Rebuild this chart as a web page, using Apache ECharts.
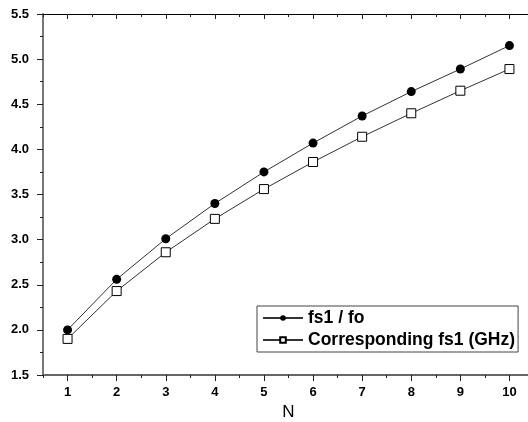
<!DOCTYPE html>
<html>
<head>
<meta charset="utf-8">
<script src="https://cdn.jsdelivr.net/npm/echarts@6/dist/echarts.min.js"></script>
<style>html,body{margin:0;padding:0;background:#fff;}#c{width:528px;height:422px;}</style>
</head>
<body>
<div id="c"></div>
<script>
const nValues = [1, 2, 3, 4, 5, 6, 7, 8, 9, 10];
const ratioName = 'fs1 / fo';
const ratioValues = [2.00, 2.56, 3.01, 3.40, 3.75, 4.07, 4.37, 4.64, 4.89, 5.15];
const freqName = 'Corresponding fs1 (GHz)';
const freqValues = [1.90, 2.43, 2.86, 3.23, 3.56, 3.86, 4.14, 4.40, 4.65, 4.89];
const yTicks = [1.5, 2.0, 2.5, 3.0, 3.5, 4.0, 4.5, 5.0, 5.5];

const FONT = 'Liberation Sans';
const pairs = (ys) => nValues.map((n, i) => [n, ys[i]]);

const chart = echarts.init(document.getElementById('c'), null, {renderer: 'canvas'});
chart.setOption({
  animation: false,
  backgroundColor: '#fff',
  grid: [
    {left: 43, top: 14, width: 491, height: 361, containLabel: false, outerBoundsMode: 'none'},
    {left: 67.55, top: 14, width: 441.9, height: 361, containLabel: false, outerBoundsMode: 'none'}
  ],
  xAxis: [
    {gridIndex: 0, type: 'value', position: 'bottom', min: 0.5, max: 10.5, interval: 0.5,
     axisLine: {show: true, lineStyle: {color: '#666', width: 2}},
     axisTick: {show: true, inside: false, length: 3, lineStyle: {color: '#222'}},
     axisLabel: {show: false}, splitLine: {show: false},
     name: 'N', nameLocation: 'middle', nameGap: 29,
     nameTextStyle: {fontFamily: FONT, fontSize: 17, color: '#000'}},
    {gridIndex: 0, type: 'value', position: 'top', min: 0.5, max: 10.5, interval: 0.5,
     axisLine: {show: true, lineStyle: {color: '#000', width: 1}},
     axisTick: {show: true, inside: true, length: 3, lineStyle: {color: '#222'}},
     axisLabel: {show: false}, splitLine: {show: false}},
    {gridIndex: 1, type: 'value', position: 'bottom', min: 1, max: 10, interval: 1,
     axisLine: {show: false},
     axisTick: {show: true, inside: false, length: 6, lineStyle: {color: '#222'}},
     axisLabel: {show: true, margin: 11, fontFamily: FONT, fontSize: 13, fontWeight: 'bold', color: '#000',
       formatter: v => String(v)},
     splitLine: {show: false}},
    {gridIndex: 1, type: 'value', position: 'top', min: 1, max: 10, interval: 1,
     axisLine: {show: false},
     axisTick: {show: true, inside: true, length: 5, lineStyle: {color: '#222'}},
     axisLabel: {show: false}, splitLine: {show: false}}
  ],
  yAxis: [
    {gridIndex: 0, type: 'value', min: yTicks[0], max: yTicks[yTicks.length - 1], interval: 0.5,
     axisLine: {show: true, lineStyle: {color: '#777', width: 2}},
     axisTick: {show: true, inside: false, length: 6, lineStyle: {color: '#222'}},
     minorTick: {show: true, splitNumber: 2, length: 3, lineStyle: {color: '#222'}},
     axisLabel: {show: true, margin: 14, fontFamily: FONT, fontSize: 13, fontWeight: 'bold', color: '#000',
       formatter: v => v.toFixed(1)},
     splitLine: {show: false}, minorSplitLine: {show: false}},
    {gridIndex: 1, type: 'value', min: yTicks[0], max: yTicks[yTicks.length - 1], show: false}
  ],
  legend: {
    orient: 'vertical', left: 257, top: 306,
    padding: [3, 3, 3, 5], itemGap: 4, itemWidth: 40, itemHeight: 7,
    borderColor: '#444', borderWidth: 1, backgroundColor: '#fff',
    textStyle: {fontFamily: FONT, fontSize: 17.5, fontWeight: 'bold', color: '#000'},
    data: [ratioName, freqName]
  },
  series: [
    {name: ratioName, type: 'line', xAxisIndex: 0, yAxisIndex: 0, data: pairs(ratioValues),
     symbol: 'circle', symbolSize: 9,
     lineStyle: {color: '#333', width: 1},
     itemStyle: {color: '#000', borderColor: '#000', borderWidth: 0}},
    {name: freqName, type: 'line', xAxisIndex: 0, yAxisIndex: 0, data: pairs(freqValues),
     symbol: 'rect', symbolSize: 9,
     lineStyle: {color: '#333', width: 1},
     itemStyle: {color: '#fff', borderColor: '#000', borderWidth: 1}}
  ]
});
</script>
</body>
</html>
